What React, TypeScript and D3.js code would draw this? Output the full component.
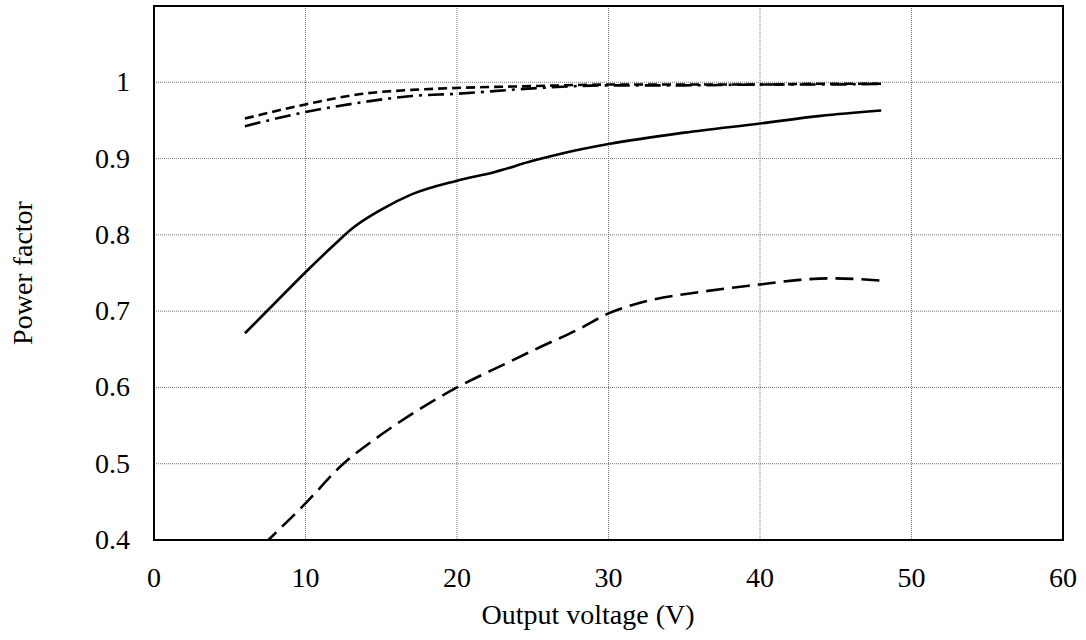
import React from "react";
import * as d3 from "d3";

// Power factor vs. output voltage, four operating curves
const xTicks = [0, 10, 20, 30, 40, 50, 60];
const yTicks = [0.4, 0.5, 0.6, 0.7, 0.8, 0.9, 1];
const yTickLabels = ["0.4", "0.5", "0.6", "0.7", "0.8", "0.9", "1"];

const solidV = [6, 8, 10, 12, 13, 15, 17, 20, 22.5, 25, 27, 30, 35, 40, 44, 48];
const solidPF = [0.671, 0.711, 0.751, 0.789, 0.807, 0.833, 0.853, 0.871, 0.8825, 0.897, 0.907, 0.919, 0.934, 0.946, 0.956, 0.963];

const dashedV = [6, 7.5, 10, 12.5, 14.5, 16.7, 20, 23.3, 25.5, 28, 30, 32.7, 36, 40, 42.6, 44.8, 48];
const dashedPF = [0.37, 0.399, 0.448, 0.5, 0.531, 0.561, 0.6, 0.632, 0.653, 0.676, 0.697, 0.714, 0.725, 0.735, 0.741, 0.743, 0.74];

const shortDashV = [6, 10, 13.8, 17, 20, 25, 30, 35, 40, 44, 48];
const shortDashPF = [0.9525, 0.971, 0.985, 0.99, 0.9926, 0.995, 0.997, 0.997, 0.997, 0.998, 0.998];

const dashDotV = [6, 10, 13.8, 17, 20, 25, 30, 35, 40, 44, 48];
const dashDotPF = [0.9424, 0.961, 0.974, 0.982, 0.985, 0.992, 0.996, 0.996, 0.997, 0.997, 0.998];

const W = 1086;
const H = 640;
const plot = { left: 154, right: 1063, top: 6, bottom: 540 };
const textStyle = { fontFamily: "Liberation Serif", fontSize: 28 };

export default function App() {
  const x = d3.scaleLinear().domain([0, 60]).range([plot.left, plot.right]);
  const y = d3.scaleLinear().domain([0.4, 1.1]).range([plot.bottom, plot.top]);

  const line = d3
    .line<[number, number]>()
    .x((d) => x(d[0]))
    .y((d) => y(d[1]))
    .curve(d3.curveMonotoneX);

  const series = [
    { v: solidV, pf: solidPF, dash: undefined },
    { v: dashedV, pf: dashedPF, dash: "18,8" },
    { v: shortDashV, pf: shortDashPF, dash: "9,5" },
    { v: dashDotV, pf: dashDotPF, dash: "16,6,3,6" },
  ];

  return (
    <svg width={W} height={H} style={{ position: "absolute", left: 0, top: 0, background: "#fff" }}>
      <defs>
        <clipPath id="plotClip">
          <rect x={plot.left} y={plot.top} width={plot.right - plot.left} height={plot.bottom - plot.top} />
        </clipPath>
      </defs>
      <rect x={0} y={0} width={W} height={H} fill="#fff" />

      {/* grid */}
      {xTicks.slice(1, -1).map((t) => (
        <line key={"gx" + t} x1={x(t)} x2={x(t)} y1={plot.top} y2={plot.bottom} stroke="#777" strokeWidth={1} strokeDasharray="1,1" />
      ))}
      {yTicks.slice(1).map((t) => (
        <line key={"gy" + t} x1={plot.left} x2={plot.right} y1={y(t)} y2={y(t)} stroke="#777" strokeWidth={1} strokeDasharray="1,1" />
      ))}

      {/* curves */}
      <g clipPath="url(#plotClip)">
        {series.map((s, i) => (
          <path
            key={i}
            d={line(s.v.map((v, j) => [v, s.pf[j]] as [number, number])) || ""}
            fill="none"
            stroke="#000"
            strokeWidth={2.6}
            strokeDasharray={s.dash}
          />
        ))}
      </g>

      {/* frame */}
      <rect x={plot.left} y={plot.top} width={plot.right - plot.left} height={plot.bottom - plot.top} fill="none" stroke="#000" strokeWidth={2} />

      {/* tick labels */}
      {yTicks.map((t, i) => (
        <text key={"ly" + t} x={130} y={y(t) + 9} textAnchor="end" style={textStyle}>
          {yTickLabels[i]}
        </text>
      ))}
      {xTicks.map((t) => (
        <text key={"lx" + t} x={x(t)} y={587} textAnchor="middle" style={textStyle}>
          {t}
        </text>
      ))}

      {/* axis titles */}
      <text x={588} y={624} textAnchor="middle" style={textStyle}>
        Output voltage (V)
      </text>
      <text transform={`translate(32, ${(plot.top + plot.bottom) / 2}) rotate(-90)`} textAnchor="middle" style={textStyle}>
        Power factor
      </text>
    </svg>
  );
}
